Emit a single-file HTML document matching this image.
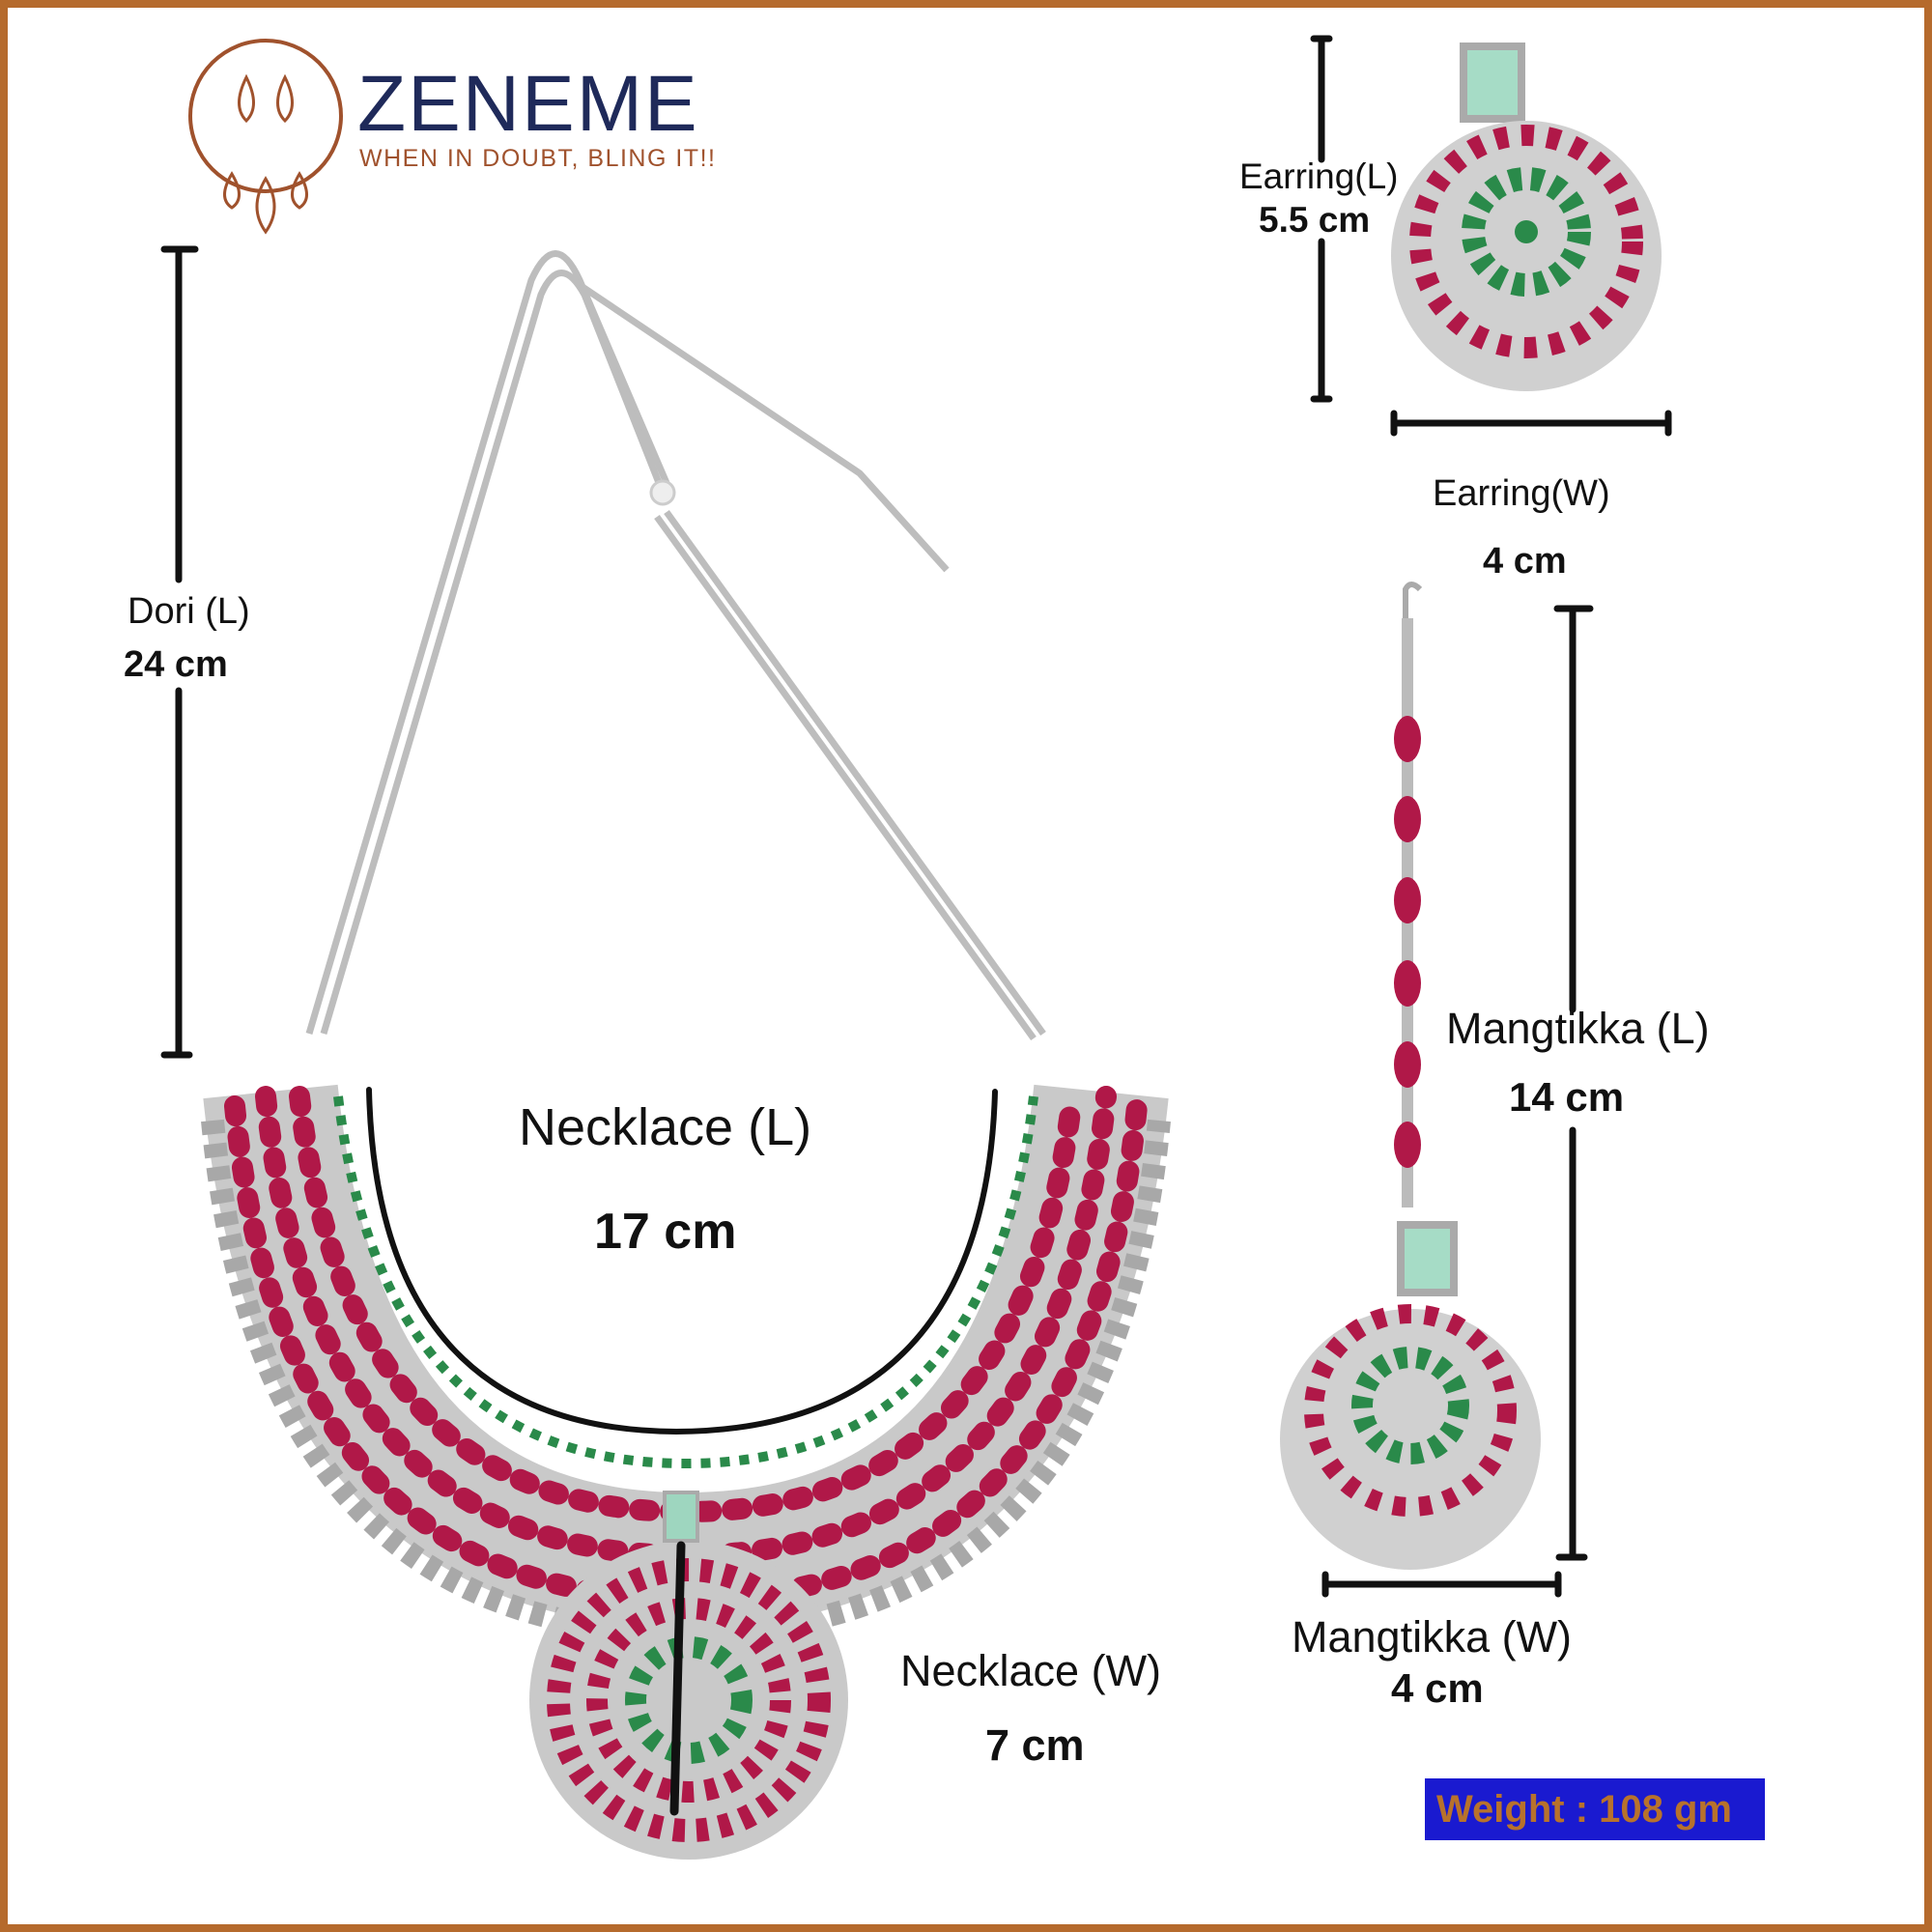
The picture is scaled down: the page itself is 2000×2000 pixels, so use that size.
<!DOCTYPE html>
<html><head><meta charset="utf-8"><style>
html,body{margin:0;padding:0;background:#fff}
svg{display:block}
text{font-family:"Liberation Sans",sans-serif}
</style></head><body>
<svg width="2000" height="2000" viewBox="0 0 2000 2000" xmlns="http://www.w3.org/2000/svg">
<rect x="0" y="0" width="2000" height="2000" fill="#fff"/>
<rect x="4" y="4" width="1992" height="1992" fill="none" stroke="#b56a2c" stroke-width="8"/>

<!-- Logo -->
<circle cx="275" cy="120" r="78" fill="none" stroke="#a0522d" stroke-width="4"/>
<g fill="none" stroke="#a0522d" stroke-width="3">
<path d="M255 80 q-15 30 0 45 q15 -15 0 -45z"/><path d="M295 80 q-15 30 0 45 q15 -15 0 -45z"/>
<path d="M240 180 q-15 25 0 35 q15 -10 0 -35z"/><path d="M275 185 q-18 30 0 55 q18 -25 0 -55z"/><path d="M310 180 q-15 25 0 35 q15 -10 0 -35z"/>
</g>
<text x="370" y="135" font-size="82" fill="#1f2a5a" letter-spacing="2">ZENEME</text>
<text x="372" y="172" font-size="25" fill="#a0522d" letter-spacing="1.5">WHEN IN DOUBT, BLING IT!!</text>

<!-- Necklace cords -->
<g fill="none" stroke="#bdbdbd" stroke-width="7">
<path d="M320 1070 L550 290 Q575 235 600 290 L690 500"/>
<path d="M335 1070 L560 305 Q580 260 605 305 L690 520"/>
<path d="M600 295 L890 490 L980 590"/>
<path d="M1080 1070 L690 530"/>
<path d="M1070 1075 L680 535"/>
</g>
<circle cx="686" cy="510" r="12" fill="#eee" stroke="#ccc" stroke-width="3"/>

<!-- Necklace body -->
<path d="M280 1130 Q330 1615 710 1615 Q1090 1615 1140 1130" fill="none" stroke="#c9c9c9" stroke-width="140"/>
<path d="M275 1135 Q325 1610 710 1610 Q1095 1610 1145 1135" fill="none" stroke="#b01848" stroke-width="22" stroke-dasharray="10 22" stroke-linecap="round"/>
<path d="M310 1135 Q360 1565 710 1565 Q1060 1565 1110 1135" fill="none" stroke="#b01848" stroke-width="22" stroke-dasharray="10 22" stroke-linecap="round"/>
<path d="M243 1145 Q293 1655 710 1655 Q1127 1655 1177 1145" fill="none" stroke="#b01848" stroke-width="22" stroke-dasharray="10 22" stroke-linecap="round"/>
<path d="M350 1135 Q395 1515 710 1515 Q1025 1515 1070 1135" fill="none" stroke="#2a8a4a" stroke-width="10" stroke-dasharray="10 10"/>
<path d="M220 1160 Q270 1690 710 1690 Q1150 1690 1200 1160" fill="none" stroke="#a8a8a8" stroke-width="24" stroke-dasharray="14 10"/>
<!-- Pendant -->
<circle cx="713" cy="1760" r="165" fill="#c9c9c9"/>
<circle cx="713" cy="1760" r="135" fill="none" stroke="#b01848" stroke-width="24" stroke-dasharray="12 12"/>
<circle cx="713" cy="1760" r="95" fill="none" stroke="#b01848" stroke-width="22" stroke-dasharray="12 12"/>
<circle cx="713" cy="1760" r="55" fill="none" stroke="#2a8a4a" stroke-width="22" stroke-dasharray="12 12"/>
<rect x="688" y="1545" width="34" height="50" fill="#9ed6bf" stroke="#aaa" stroke-width="4"/>

<!-- Earring -->
<rect x="1515" y="48" width="60" height="75" fill="#a6dcc6" stroke="#aaa" stroke-width="8"/>
<circle cx="1580" cy="265" r="140" fill="#d0d0d0"/>
<circle cx="1580" cy="250" r="110" fill="none" stroke="#b01848" stroke-width="22" stroke-dasharray="13 14"/>
<circle cx="1580" cy="240" r="55" fill="none" stroke="#2a8a4a" stroke-width="24" stroke-dasharray="12 10"/>
<circle cx="1580" cy="240" r="12" fill="#2a8a4a"/>
<!-- Mangtikka -->
<line x1="1457" y1="640" x2="1457" y2="1250" stroke="#bbb" stroke-width="12"/>
<g fill="#b01848"><ellipse cx="1457" cy="765" rx="14" ry="24"/><ellipse cx="1457" cy="848" rx="14" ry="24"/><ellipse cx="1457" cy="932" rx="14" ry="24"/><ellipse cx="1457" cy="1018" rx="14" ry="24"/><ellipse cx="1457" cy="1102" rx="14" ry="24"/><ellipse cx="1457" cy="1185" rx="14" ry="24"/></g>
<path d="M1455 640 L1455 610 Q1460 600 1470 610" fill="none" stroke="#aaa" stroke-width="6"/>
<rect x="1450" y="1268" width="55" height="70" fill="#a6dcc6" stroke="#aaa" stroke-width="8"/>
<circle cx="1460" cy="1490" r="135" fill="#d0d0d0"/>
<circle cx="1460" cy="1460" r="100" fill="none" stroke="#b01848" stroke-width="20" stroke-dasharray="13 14"/>
<circle cx="1460" cy="1455" r="50" fill="none" stroke="#2a8a4a" stroke-width="22" stroke-dasharray="12 10"/>

<!-- Dimension lines -->
<g stroke="#111" stroke-width="7" fill="none" stroke-linecap="round">
<line x1="185" y1="258" x2="185" y2="600"/><line x1="185" y1="715" x2="185" y2="1092"/>
<line x1="170" y1="258" x2="202" y2="258"/><line x1="170" y1="1092" x2="196" y2="1092"/>
<line x1="1368" y1="40" x2="1368" y2="165"/><line x1="1368" y1="250" x2="1368" y2="413"/>
<line x1="1360" y1="40" x2="1376" y2="40"/><line x1="1360" y1="413" x2="1376" y2="413"/>
<line x1="1443" y1="438" x2="1727" y2="438"/><line x1="1443" y1="428" x2="1443" y2="448"/><line x1="1727" y1="428" x2="1727" y2="448"/>
<line x1="1628" y1="630" x2="1628" y2="1045"/><line x1="1628" y1="1170" x2="1628" y2="1612"/>
<line x1="1612" y1="630" x2="1646" y2="630"/><line x1="1614" y1="1612" x2="1640" y2="1612"/>
<line x1="1372" y1="1640" x2="1613" y2="1640"/><line x1="1372" y1="1630" x2="1372" y2="1650"/><line x1="1613" y1="1630" x2="1613" y2="1650"/>
<path d="M382 1128 Q390 1480 700 1482 Q1020 1480 1030 1130" stroke-width="6"/>
<line x1="705" y1="1600" x2="698" y2="1875" stroke-width="9"/>
</g>

<!-- Labels -->
<g fill="#111">
<text x="132" y="645" font-size="38">Dori (L)</text>
<text x="128" y="700" font-size="38" font-weight="bold">24 cm</text>
<text x="1283" y="195" font-size="37">Earring(L)</text>
<text x="1303" y="240" font-size="37" font-weight="bold">5.5 cm</text>
<text x="1483" y="523" font-size="38">Earring(W)</text>
<text x="1535" y="593" font-size="38" font-weight="bold">4 cm</text>
<text x="1497" y="1080" font-size="45">Mangtikka (L)</text>
<text x="1562" y="1150" font-size="42" font-weight="bold">14 cm</text>
<text x="1337" y="1710" font-size="45">Mangtikka (W)</text>
<text x="1440" y="1762" font-size="42" font-weight="bold">4 cm</text>
<text x="537" y="1185" font-size="54">Necklace (L)</text>
<text x="615" y="1292" font-size="52" font-weight="bold">17 cm</text>
<text x="932" y="1745" font-size="45">Necklace (W)</text>
<text x="1020" y="1822" font-size="45" font-weight="bold">7 cm</text>
</g>
<rect x="1475" y="1841" width="352" height="64" fill="#1a1ad0"/>
<text x="1487" y="1886" font-size="40" font-weight="bold" fill="#b8722c">Weight : 108 gm</text>
</svg>
</body></html>
